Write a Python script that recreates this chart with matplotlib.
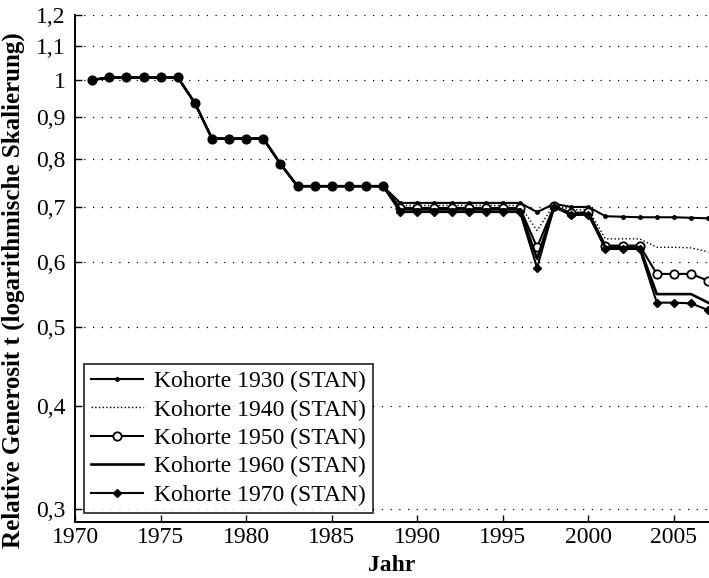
import matplotlib.pyplot as plt
from matplotlib.ticker import FixedLocator, NullLocator

plt.rcParams['font.family'] = ['Liberation Serif', 'DejaVu Serif']

years = list(range(1971, 2008))

# 1971-1988: identical for all cohorts
common = [1.0, 1.007, 1.007, 1.007, 1.007, 1.007, 0.937, 0.848, 0.848, 0.848,
          0.848, 0.79, 0.742, 0.742, 0.742, 0.742, 0.742, 0.742]

# 1989-2007
tail_1930 = [0.708] * 8 + [0.69, 0.706, 0.70, 0.70, 0.682, 0.681, 0.68, 0.68, 0.68, 0.679, 0.678]
tail_1940 = [0.703] * 8 + [0.655, 0.705, 0.694, 0.695, 0.64, 0.64, 0.64, 0.625, 0.625, 0.624, 0.617]
tail_1950 = [0.698] * 8 + [0.625, 0.702, 0.688, 0.69, 0.628, 0.628, 0.628, 0.58, 0.58, 0.58, 0.569]
tail_1960 = [0.695] * 8 + [0.605, 0.70, 0.686, 0.687, 0.625, 0.625, 0.625, 0.548, 0.548, 0.548, 0.535]
tail_1970 = [0.69] * 8 + [0.59, 0.70, 0.684, 0.685, 0.622, 0.622, 0.622, 0.535, 0.535, 0.534, 0.524]

cohorts = {
    'Kohorte 1930 (STAN)': common + tail_1930,
    'Kohorte 1940 (STAN)': common + tail_1940,
    'Kohorte 1950 (STAN)': common + tail_1950,
    'Kohorte 1960 (STAN)': common + tail_1960,
    'Kohorte 1970 (STAN)': common + tail_1970,
}
styles = [
    dict(ls='-', lw=1.5, marker='.', ms=5),
    dict(ls=':', lw=1.0),
    dict(ls='-', lw=1.5, marker='o', ms=6, mfc='white', mew=1.3),
    dict(ls='-', lw=1.9),
    dict(ls='-', lw=1.5, marker='D', ms=4),
]

yticks = [0.3, 0.4, 0.5, 0.6, 0.7, 0.8, 0.9, 1.0, 1.1, 1.2]
ylabels = ['0,3', '0,4', '0,5', '0,6', '0,7', '0,8', '0,9', '1', '1,1', '1,2']

fig = plt.figure(figsize=(7.09, 5.78), dpi=100)
ax = fig.add_axes([0.106, 0.097, 0.894, 0.877])

for (name, vals), st in zip(cohorts.items(), styles):
    ax.plot(years, vals, color='black', label=name, **st)

ax.set_yscale('log')
ax.set_ylim(0.289, 1.2)
ax.set_xlim(1970, 2007.05)
ax.yaxis.set_major_locator(FixedLocator(yticks))
ax.yaxis.set_minor_locator(NullLocator())
ax.set_yticklabels(ylabels)
ax.set_xticks([1970, 1975, 1980, 1985, 1990, 1995, 2000, 2005])
ax.tick_params(direction='in', labelsize=17, length=5, width=1)
ax.tick_params(axis='y', pad=7)
ax.yaxis.grid(True, linestyle=(0, (1, 6)), color='black', linewidth=0.9)

for s in ['top', 'right']:
    ax.spines[s].set_visible(False)
for s in ['left', 'bottom']:
    ax.spines[s].set_linewidth(1.4)

ax.set_xlabel('Jahr', fontsize=17, fontweight='bold', labelpad=5)
ax.set_ylabel('Relative Generosit t (logarithmische Skalierung)', fontsize=18,
              fontweight='bold')
ax.yaxis.set_label_coords(-0.079, 0.457)

leg = ax.legend(loc='lower left', fontsize=17, frameon=True, fancybox=False,
                edgecolor='black', handlelength=2.2, handletextpad=0.45,
                borderaxespad=0.38, labelspacing=0.29, borderpad=0.3)
leg.get_frame().set_linewidth(1.3)

fig.savefig('out.png', dpi=100)
